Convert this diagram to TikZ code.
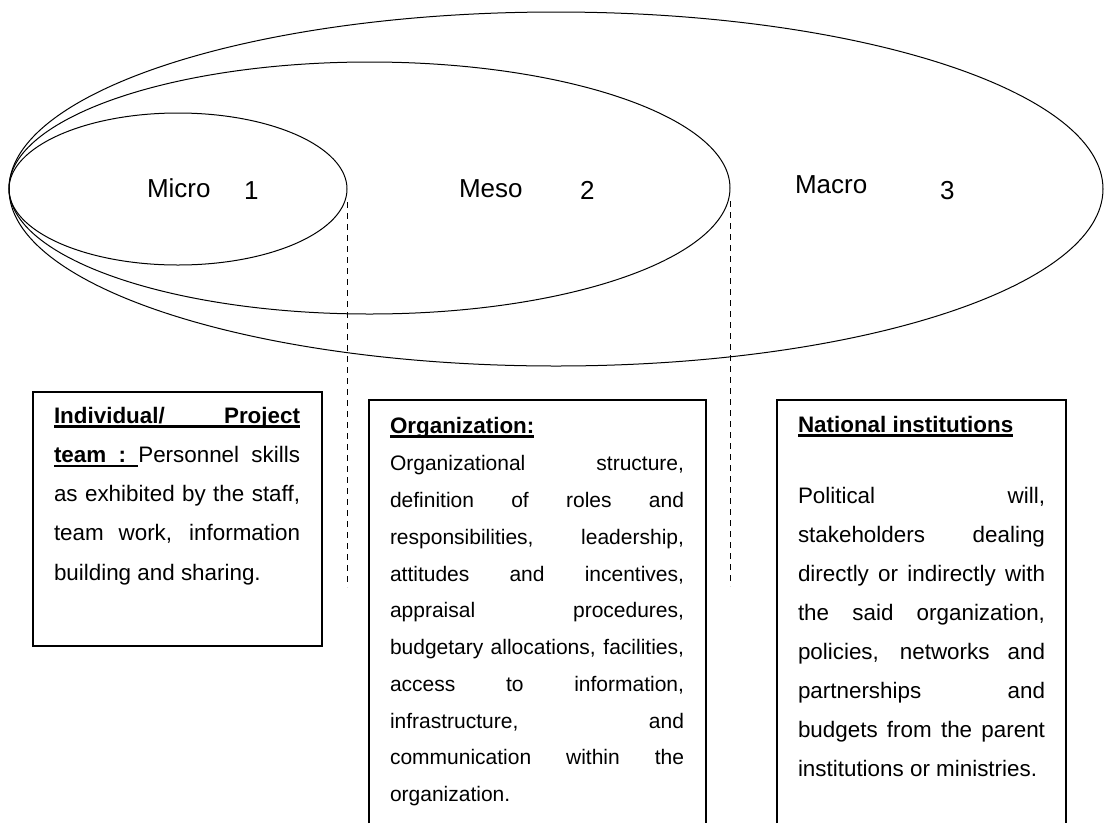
\documentclass[tikz,border=0pt]{standalone}
\usepackage{fontspec}
\setmainfont{Liberation Sans}
\usetikzlibrary{shapes.geometric}
\newcommand\ulrule{\hrule height -2pt depth 4.4pt}
\newcommand\ulbox[1]{\setbox0=\hbox{#1}\rlap{\vrule width\wd0 height -2pt depth 4.4pt}\box0}
\newcommand\jl[1]{\hbox to\hsize{#1}}
\newcommand\nl[1]{\hbox{#1}}
\newcommand\blk[4]{\vtop{\fontsize{#1}{#2}\selectfont\hsize=#3\parindent=0pt\lineskiplimit=-100pt\lineskip=0pt\spaceskip=.278em plus 30em minus .1em\xspaceskip=\spaceskip #4}}
\begin{document}
\begin{tikzpicture}[x=1pt,y=-1pt,
  ell/.style={ellipse, draw, inner sep=0pt, line width=1pt},
  lbl/.style={inner sep=0pt, outer sep=0pt, anchor=base west, font=\fontsize{26}{30}\selectfont},
  txt/.style={inner sep=0pt, outer sep=0pt, anchor=base west},
  head/.style={txt, font=\fontsize{22.4}{26}\selectfont\bfseries},
  dline/.style={line width=1pt, dash pattern=on 6pt off 5pt},
  boxl/.style={line width=1.2pt}]
\useasboundingbox (0,0) rectangle (1104,823);
\fill[white] (0,0) rectangle (1104,823);

% ellipses
\node[ell, minimum width=1094pt, minimum height=354pt] (macro) at (556,189) {};
\node[ell, minimum width=721pt, minimum height=252pt] (meso) at (369.5,188) {};
\node[ell, minimum width=338pt, minimum height=152pt] (micro) at (178,189) {};

% labels
\node[lbl] (lmicro) at (147,197) {Micro};
\node[lbl] (n1) at (244,199) {1};
\node[lbl] (lmeso) at (459,197) {Meso};
\node[lbl] (n2) at (580,199) {2};
\node[lbl] (lmacro) at (795,193) {Macro};
\node[lbl] (n3) at (940,199) {3};

% dashed lines
\coordinate (d1end) at (346,587);
\coordinate (d2end) at (730,586);
\draw[dline] ([yshift=-13pt]micro.east) -- (micro.east |- d1end);
\draw[dline] ([yshift=-13pt]meso.east) -- (meso.east |- d2end);

% boxes
\draw[boxl] (33,392) rectangle (322,646);
\draw[boxl] (369,823) -- (369,400) -- (706,400) -- (706,823);
\draw[boxl] (777,823) -- (777,400) -- (1066,400) -- (1066,823);

% box 1 text
\node[txt] (t1) at (54,423.3) {\blk{22.4}{39.2}{246pt}{%
\jl{\ulbox{\bfseries Individual/}\leaders\ulrule\hfil\ulbox{\bfseries Project}}%
\jl{\ulbox{\bfseries team}\leaders\ulrule\hfil\ulbox{\bfseries :}\leaders\ulrule\hfil Personnel\hfil skills}%
\jl{as exhibited by the staff,}%
\jl{team work, information}%
\nl{building and sharing.}}};

% box 2 text
\node[head] (h2) at (390,433.3) {\ulbox{Organization:}};
\node[txt] (t2) at (390,470.7) {\blk{21}{36.78}{294pt}{%
\jl{Organizational structure,}%
\jl{definition of roles and}%
\jl{responsibilities, leadership,}%
\jl{attitudes and incentives,}%
\jl{appraisal procedures,}%
\jl{budgetary allocations, facilities,}%
\jl{access to information,}%
\jl{infrastructure, and}%
\jl{communication within the}%
\nl{organization.}}};

% box 3 text
\node[head] (h3) at (798,432.3) {\ulbox{National institutions}};
\node[txt] (t3) at (798,503.3) {\blk{22.4}{39.05}{247pt}{%
\jl{Political will,}%
\jl{stakeholders dealing}%
\jl{directly or indirectly with}%
\jl{the said organization,}%
\jl{policies, networks and}%
\jl{partnerships and}%
\jl{budgets from the parent}%
\nl{institutions or ministries.}}};
\end{tikzpicture}
\end{document}
